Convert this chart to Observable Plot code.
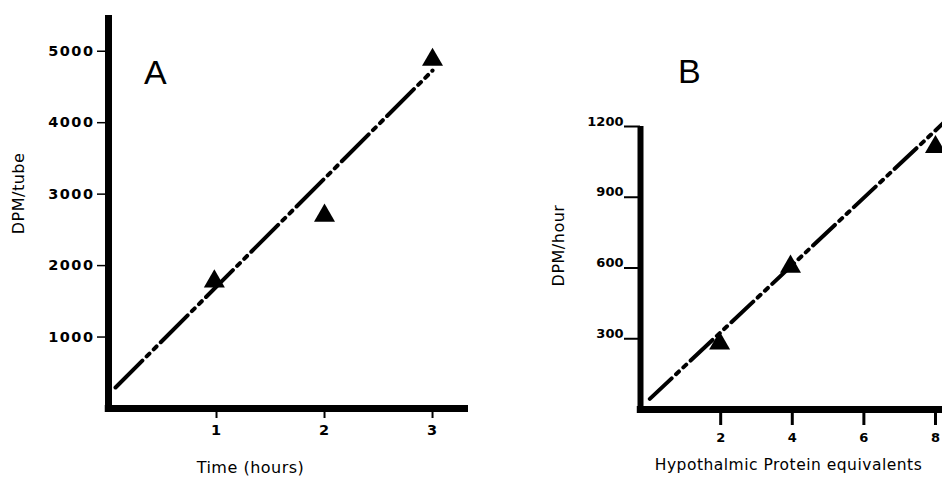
<!DOCTYPE html>
<html>
<head>
<meta charset="utf-8">
<script src="https://cdn.jsdelivr.net/npm/d3@7"></script>
<script src="https://cdn.jsdelivr.net/npm/@observablehq/plot@0.6"></script>
<style>
  body { margin: 0; background: #fff; }
  #wrap { position: relative; width: 942px; height: 478px; overflow: hidden; background: #fff; }
  #wrap svg { position: absolute; top: 0; }
  #A g[aria-label="y-axis tick label"] text { letter-spacing: 1.5px; }
  #A g[aria-label="x-axis tick label"] text { letter-spacing: 1px; }
  #A g[aria-label$="tick label"] text { font-size: 14.5px !important; font-weight: bold !important; }
  #B g[aria-label$="tick label"] text { font-size: 13px !important; font-weight: bold !important; }
  svg g[aria-label="text"] text { letter-spacing: 0.5px; }
</style>
</head>
<body>
<div id="wrap"></div>
<script>
// ---------- Panel A: DPM/tube vs time ----------
const timeHours   = [0.98, 2, 3];
const dpmPerTube  = [1780, 2700, 4880];
const fitATime    = [0.065, 3.0];
const fitADpm     = [294, 4730];
const ticksAY     = [1000, 2000, 3000, 4000, 5000];
const ticksAX     = [1, 2, 3];

// ---------- Panel B: DPM/hour vs hypothalamic protein ----------
const proteinEq   = [1.97, 3.95, 8.0];
const dpmPerHour  = [280, 606, 1113];
const fitBProtein = [0.02, 8.25];
const fitBDpm     = [45, 1219];
const ticksBY     = [300, 600, 900, 1200];
const ticksBX     = [2, 4, 6, 8];

const ptsA = timeHours.map((x, i) => ({x, y: dpmPerTube[i]}));
const fitA = fitATime.map((x, i) => ({x, y: fitADpm[i]}));
const ptsB = proteinEq.map((x, i) => ({x, y: dpmPerHour[i]}));
const fitB = fitBProtein.map((x, i) => ({x, y: fitBDpm[i]}));

const font = "DejaVu Sans";
const bX0 = -0.24;            // B: x value where the vertical axis sits
const bTickLen = 16 / 35.8;   // B: 16px tick length in x units

const A = Plot.plot({
  width: 471, height: 478,
  marginLeft: 108, marginRight: 3, marginTop: 15, marginBottom: 70,
  x: {domain: [0, 3.333]},
  y: {domain: [0, 5500]},
  style: {fontFamily: font, fontSize: "14px", background: "transparent", color: "#000", overflow: "visible"},
  marks: [
    Plot.axisY({ticks: ticksAY, tickSize: 11, tickPadding: 3, tickFormat: d => String(d),
      fontSize: 14, fontWeight: "bold", strokeWidth: 1.5, label: null}),
    Plot.axisX({ticks: ticksAX, tickSize: 10, tickPadding: 6, tickFormat: d => String(d),
      fontSize: 14, fontWeight: "bold", strokeWidth: 2, label: null}),
    Plot.ruleX([0], {y1: 0, y2: 5500, strokeWidth: 7, stroke: "#000"}),
    Plot.ruleY([0], {x1: -0.03, x2: 3.333, strokeWidth: 7, stroke: "#000"}),
    Plot.line(fitA, {x: "x", y: "y", stroke: "#000", strokeWidth: 4, strokeDasharray: "38,6,4,6,4,6"}),
    Plot.dot(ptsA, {x: "x", y: "y", symbol: "triangle", r: 7.8, fill: "#000", stroke: "none"}),
    Plot.text(["A"], {frameAnchor: "top-left", dx: 47, dy: 58, fontSize: 34, fontFamily: "Liberation Sans",
      textAnchor: "middle", lineAnchor: "middle", fill: "#000"}),
    Plot.text(["Time (hours)"], {frameAnchor: "bottom", dx: -38, dy: 59, fontSize: 16,
      textAnchor: "middle", lineAnchor: "middle", fill: "#000"}),
    Plot.text(["DPM/tube"], {frameAnchor: "left", dx: -90, dy: -18.5, rotate: -90, fontSize: 16,
      textAnchor: "middle", lineAnchor: "middle", fill: "#000"})
  ]
});
A.id = "A";
A.style.left = "0px";

const B = Plot.plot({
  width: 490, height: 478,
  marginLeft: 169, marginRight: 0, marginTop: 126, marginBottom: 69,
  x: {domain: [bX0, 8.727]},
  y: {domain: [0, 1200]},
  style: {fontFamily: font, fontSize: "13px", background: "transparent", color: "#000", overflow: "visible"},
  marks: [
    Plot.axisY({ticks: ticksBY, tickSize: 0, tickPadding: 17, dy: -5, tickFormat: d => String(d),
      fontSize: 13, fontWeight: "bold", label: null}),
    Plot.ruleY(ticksBY, {x1: bX0 - bTickLen, x2: bX0, strokeWidth: 2, stroke: "#000"}),
    Plot.axisX({ticks: ticksBX, tickSize: 16, tickPadding: 7, tickFormat: d => String(d),
      fontSize: 13, fontWeight: "bold", strokeWidth: 3, label: null}),
    Plot.ruleX([bX0], {y1: 0, y2: 1200, strokeWidth: 6, stroke: "#000"}),
    Plot.ruleY([0], {x1: -0.33, x2: 8.727, strokeWidth: 7, stroke: "#000"}),
    Plot.line(fitB, {x: "x", y: "y", stroke: "#000", strokeWidth: 4, strokeDasharray: "30,6,4,6,4,6"}),
    Plot.dot(ptsB, {x: "x", y: "y", symbol: "triangle", r: 7.8, fill: "#000", stroke: "none"}),
    Plot.text(["B"], {frameAnchor: "top-left", dx: 49, dy: -54, fontSize: 34, fontFamily: "Liberation Sans",
      textAnchor: "middle", lineAnchor: "middle", fill: "#000"}),
    Plot.text(["Hypothalmic Protein equivalents"], {frameAnchor: "bottom", dx: -12.5, dy: 56, fontSize: 15.5,
      textAnchor: "middle", lineAnchor: "middle", fill: "#000"}),
    Plot.text(["DPM/hour"], {frameAnchor: "left", dx: -82, dy: -22.5, rotate: -90, fontSize: 16,
      textAnchor: "middle", lineAnchor: "middle", fill: "#000"})
  ]
});
B.id = "B";
B.style.left = "471px";

const wrap = document.getElementById("wrap");
wrap.appendChild(A);
wrap.appendChild(B);
</script>
</body>
</html>
